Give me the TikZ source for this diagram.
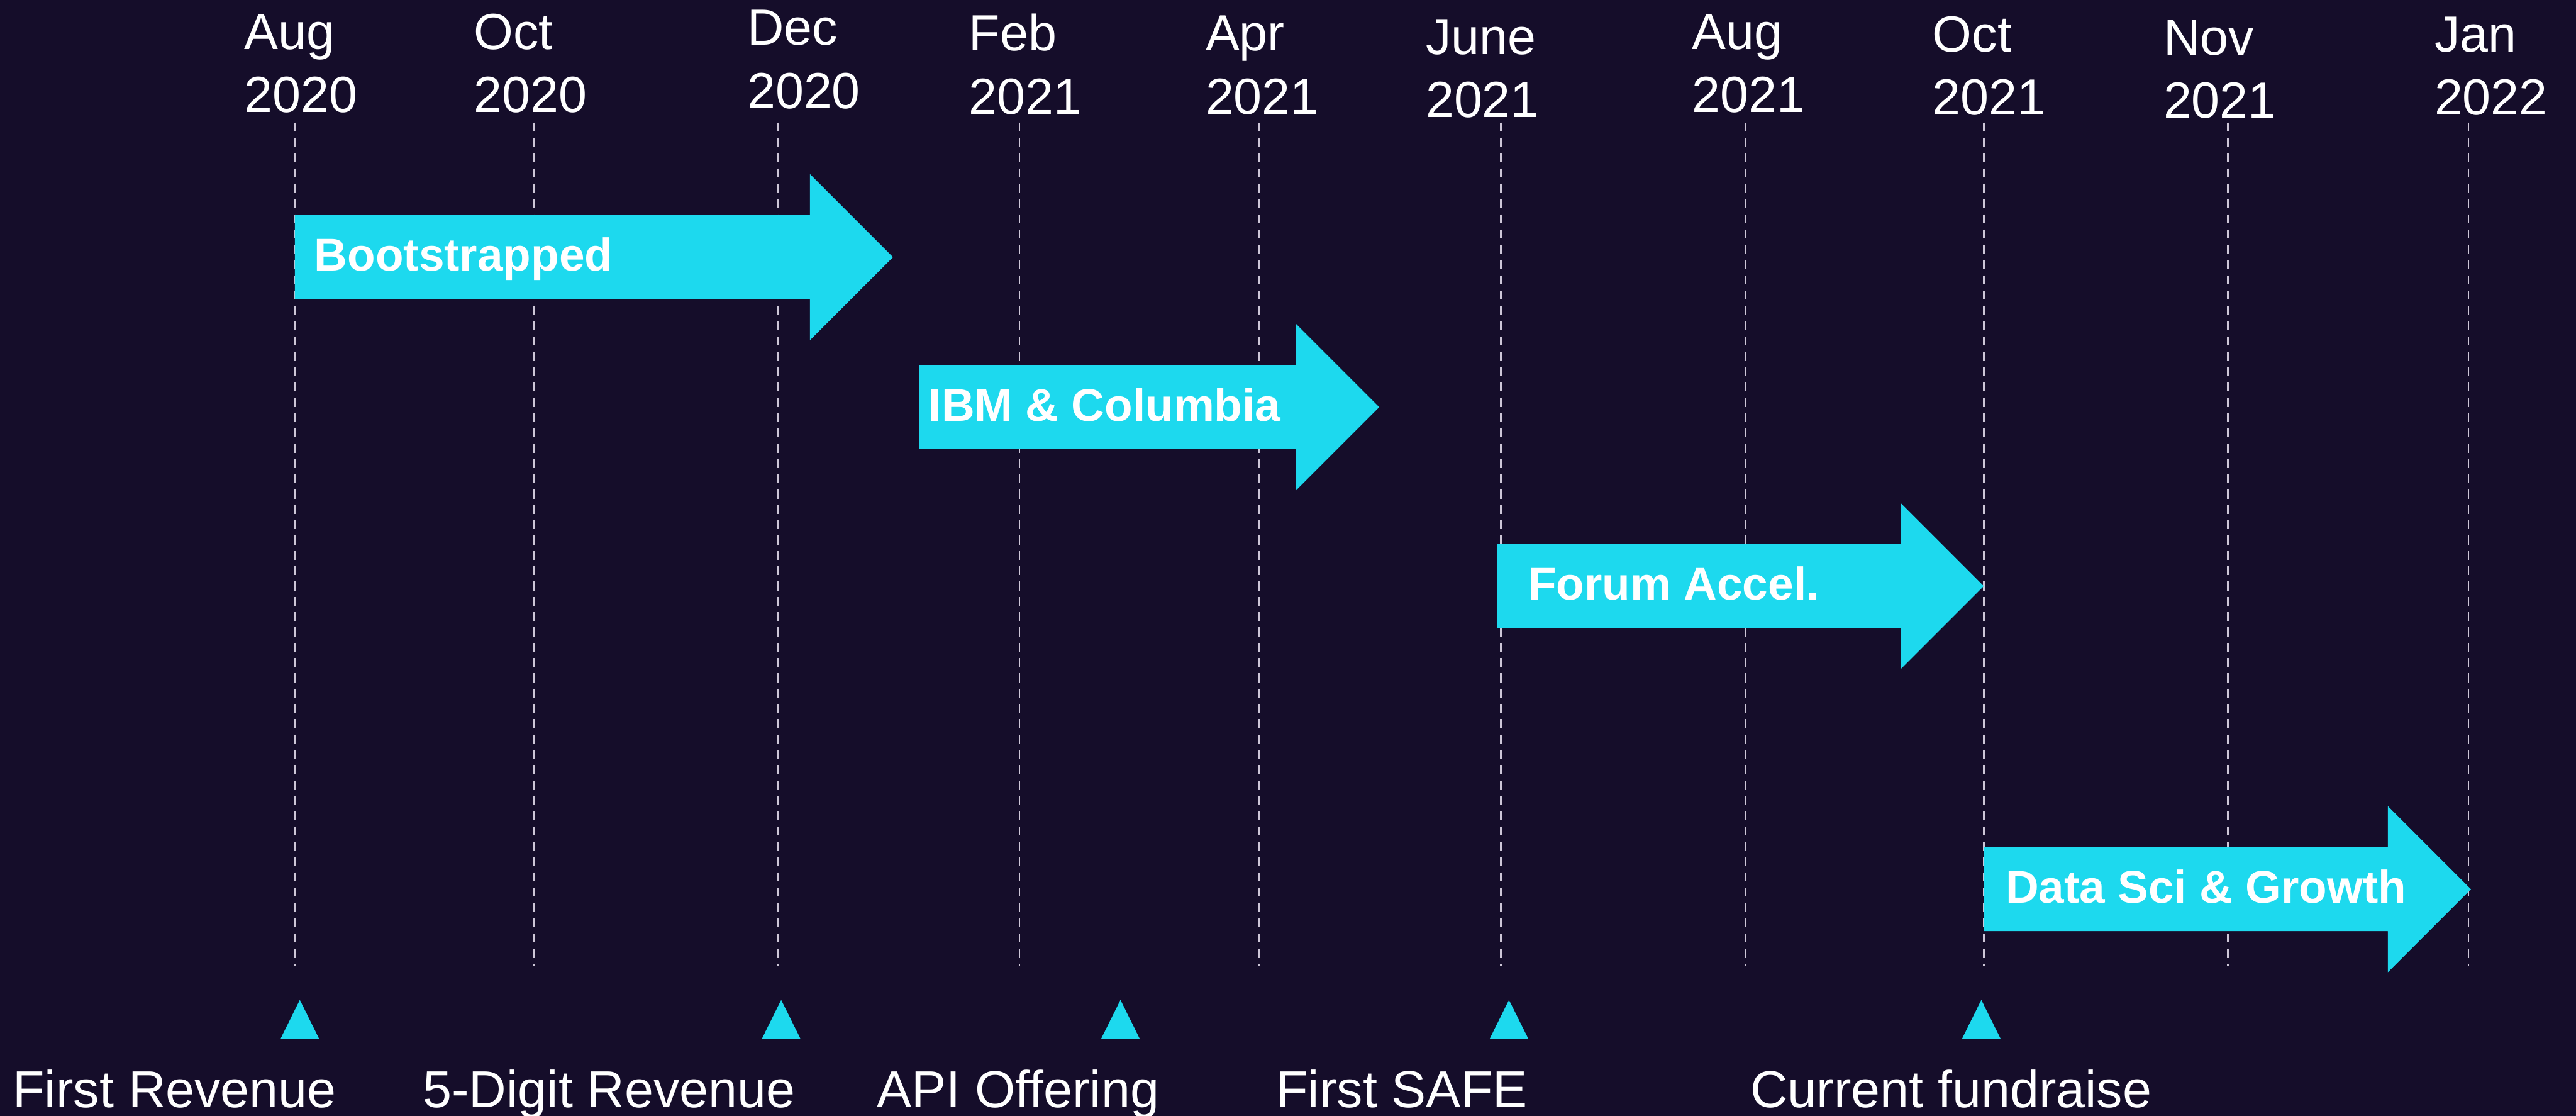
\documentclass[tikz,border=0pt]{standalone}
\usepackage{fontspec}
\setmainfont{Liberation Sans}
\usepackage{tikz}
\usetikzlibrary{positioning}
\usepackage{xcolor}
\definecolor{bgnavy}{RGB}{21,13,42}
\definecolor{phasecyan}{RGB}{29,217,238}
\definecolor{gridlav}{RGB}{205,198,215}

\begin{document}
\begin{tikzpicture}[
    x=1cm, y=1cm,
    datelbl/.style={text=white, inner sep=0pt, anchor=base west,
        font=\fontsize{17.6}{21}\selectfont},
    mslbl/.style={text=white, inner sep=0pt, anchor=base west,
        font=\fontsize{18}{21}\selectfont},
    phaselbl/.style={text=white, inner sep=0pt, anchor=base west,
        font=\bfseries\fontsize{15.9}{19}\selectfont},
    gridline/.style={draw=gridlav, line width=0.6pt, dash pattern=on 3.1pt off 2.2pt},
    phase/.style={fill=phasecyan},
    marker/.style={fill=phasecyan}
]

% Background
\useasboundingbox (0,0) rectangle (31.36,13.58);
\fill[bgnavy] (0,0) rectangle (31.36,13.58);

% Month lines
\foreach \x in {3.59, 6.50, 9.47, 12.41, 15.33, 18.27, 21.25, 24.15, 27.12, 30.05}
    \draw[gridline] (\x,12.09) -- (\x,1.82);

% Month labels
\foreach \x/\b/\mon/\yr [count=\i] in {2.97/12.98/Aug/2020, 5.76/12.98/Oct/2020,
    9.09/13.03/Dec/2020, 11.79/12.96/Feb/2021, 14.67/12.96/Apr/2021,
    17.35/12.92/June/2021, 20.59/12.98/Aug/2021, 23.52/12.95/Oct/2021,
    26.33/12.91/Nov/2021, 29.63/12.95/Jan/2022}{
    \node[datelbl] (mon\i) at (\x,\b) {\mon};
    \node[datelbl] (yr\i) at (\x,\b-0.768) {\yr};
}

% Phases (block arrows)
\foreach \l/\r/\y/\dx/\nm/\txt in {3.59/10.87/10.45/0.23/boot/Bootstrapped,
    11.19/16.79/8.625/0.11/ibm/IBM \& Columbia,
    18.23/24.15/6.447/0.37/forum/Forum Accel.,
    24.15/30.08/2.757/0.26/datasci/Data Sci \& Growth}{
    \fill[phase] (\l,\y-0.51) -- (\r-1.01,\y-0.51) -- (\r-1.01,\y-1.01)
        -- (\r,\y) -- (\r-1.01,\y+1.01) -- (\r-1.01,\y+0.51) -- (\l,\y+0.51) -- cycle;
    \node[phaselbl] (\nm) at (\l+\dx,\y-0.17) {\txt};
}

% Milestones
\foreach \x in {3.65, 9.51, 13.64, 18.37, 24.12}
    \fill[marker] (\x-0.236,0.934) -- (\x+0.236,0.934) -- (\x,1.41) -- cycle;

\node[mslbl] (firstrev) at (0.15,0.1) {First Revenue};
\node[mslbl] (fiverev) at (5.14,0.1) {5-Digit Revenue};
\node[mslbl] (api) at (10.67,0.1) {API Offering};
\node[mslbl] (safe) at (15.53,0.1) {First SAFE};
\node[mslbl] (fundraise) at (21.30,0.1) {Current fundraise};

\end{tikzpicture}
\end{document}
